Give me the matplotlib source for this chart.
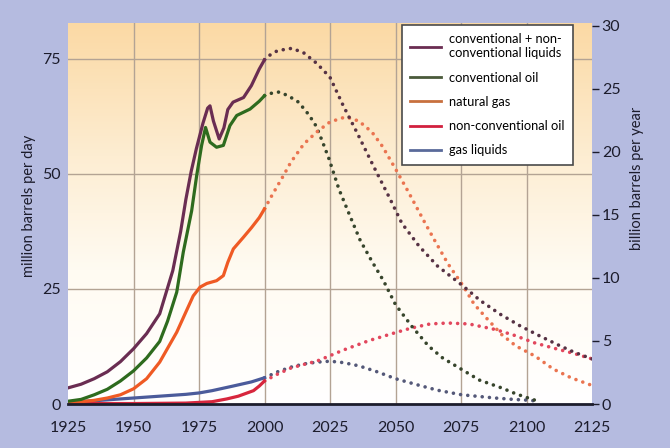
import numpy as np
import matplotlib
matplotlib.use('Agg')
import matplotlib.pyplot as plt
from matplotlib.colors import LinearSegmentedColormap

plt.rcParams['font.family'] = ['Lato', 'DejaVu Sans']

# conversion: 1 billion barrels per year = 2.74 million barrels per day
MBD_PER_GBY = 2.74

# ---- historical (solid) ----
liq_years = [1925, 1930, 1935, 1940, 1945, 1950, 1955, 1960, 1965, 1968, 1970, 1972, 1974,
             1976.5, 1978.3, 1979.2, 1980.5, 1982.7, 1984.5, 1986, 1988, 1992, 1995, 1998, 2000]
liq_vals = [3.5, 4.3, 5.5, 7.0, 9.2, 12.0, 15.3, 19.6, 29.0, 37.5, 44.5, 50.5, 55.5,
            61.0, 64.3, 64.8, 61.5, 57.6, 60.0, 64.0, 65.6, 66.6, 69.2, 72.8, 74.8]

oil_years = [1925, 1930, 1935, 1940, 1945, 1950, 1955, 1960, 1963, 1966.5, 1969, 1972.2, 1974.1,
             1976, 1977.5, 1979.2, 1981.7, 1984.3, 1986.8, 1989.4, 1994.5, 1998, 2000]
oil_vals = [0.6, 1.0, 2.0, 3.2, 5.0, 7.2, 10.0, 13.6, 18.0, 24.3, 33.0, 42.0, 49.6,
            56.2, 60.1, 56.9, 55.8, 56.2, 60.5, 62.7, 64.1, 65.8, 67.0]

gas_years = [1925, 1930, 1935, 1940, 1945, 1950, 1955, 1960, 1966.5, 1970, 1972.8, 1975.4, 1978,
             1981.7, 1984.3, 1986, 1988.1, 1991.9, 1995, 1998, 2000]
gas_vals = [0.3, 0.5, 0.8, 1.3, 2.0, 3.3, 5.5, 9.1, 15.6, 20.0, 23.5, 25.4, 26.2,
            26.8, 27.9, 30.8, 33.7, 36.2, 38.3, 40.5, 42.4]

ncv_years = [1925, 1950, 1970, 1980, 1985.6, 1990, 1995.8, 1998, 2000]
ncv_vals = [0.1, 0.1, 0.2, 0.5, 1.1, 1.7, 2.9, 3.9, 5.0]

ngl_years = [1925, 1935, 1950, 1960, 1970, 1975, 1980, 1988, 1995, 2000]
ngl_vals = [0.4, 0.7, 1.3, 1.7, 2.1, 2.4, 2.9, 3.9, 4.8, 5.7]

# ---- projections (dotted) ----
liq_p_years = [2000, 2002, 2005, 2010.5, 2015, 2020, 2025, 2030, 2035.2, 2041.5, 2047.9, 2052.4,
               2059, 2066, 2075.9, 2082.3, 2090, 2097.5, 2105, 2112.6, 2118, 2125]
liq_p_vals = [74.8, 75.8, 76.8, 77.3, 76.3, 74.0, 71.0, 64.9, 59.1, 51.8, 44.6, 39.3,
              34.3, 30.0, 25.6, 22.5, 19.5, 17.0, 14.8, 12.7, 11.3, 9.8]

oil_p_years = [2000, 2003, 2005.6, 2009, 2013, 2017, 2019.7, 2022, 2024.6, 2028.4, 2032.6, 2036.5,
               2041, 2045.4, 2050, 2056.2, 2062.6, 2068, 2075.3, 2082, 2090.5, 2096, 2100.7, 2104.5]
oil_p_vals = [67.0, 67.6, 67.8, 67.0, 65.6, 62.8, 60.4, 57.2, 53.3, 46.7, 40.9, 35.6,
              31.0, 26.8, 21.6, 16.9, 12.6, 10.0, 7.5, 5.2, 3.5, 2.2, 1.3, 0.6]

gas_p_years = [2000, 2003, 2007.2, 2010, 2015, 2019.9, 2025, 2031, 2036, 2041, 2045, 2050, 2055,
               2061.3, 2065, 2070, 2075.9, 2080, 2085, 2090.5, 2096, 2103.3, 2110.2, 2117, 2124.2]
gas_p_vals = [42.4, 45.5, 49.6, 52.5, 56.5, 59.1, 61.3, 62.4, 61.5, 59.1, 56.0, 51.1, 46.0,
              39.3, 35.5, 30.5, 25.6, 21.7, 18.5, 15.1, 12.6, 10.4, 7.6, 5.7, 4.2]

ncv_p_years = [2000, 2005, 2010, 2015, 2019.9, 2025, 2030, 2040, 2050.5, 2056, 2063.2, 2070,
               2078, 2088, 2095, 2103, 2110, 2118, 2125]
ncv_p_vals = [5.0, 6.5, 7.8, 8.6, 9.3, 10.5, 11.7, 13.8, 15.6, 16.5, 17.4, 17.6,
              17.4, 16.2, 15.0, 13.3, 12.2, 11.0, 9.8]

ngl_p_years = [2000, 2005, 2010, 2015, 2020, 2025, 2030, 2036, 2043, 2050, 2059.4, 2066,
               2075.3, 2088, 2095, 2101.5, 2104]
ngl_p_vals = [5.7, 7.0, 8.0, 8.7, 9.1, 9.3, 9.0, 8.3, 7.0, 5.5, 4.0, 3.0,
              2.0, 1.3, 1.0, 0.8, 0.6]

labels = ['conventional + non-\nconventional liquids', 'conventional oil',
          'natural gas', 'non-conventional oil', 'gas liquids']

fig = plt.figure(figsize=(6.7, 4.48), dpi=100)
fig.patch.set_facecolor('#b5bbe0')

ax = fig.add_axes([68 / 670, 44 / 448, 524 / 670, 381 / 448])
ax.set_facecolor('white')

# peach to white background gradient
grad_cmap = LinearSegmentedColormap.from_list(
    'bg', [(0.0, '#ffffff'), (0.35, '#fffbf2'), (0.65, '#fdedd2'), (1.0, '#fbd9a4')])
grad = np.linspace(0, 1, 256).reshape(-1, 1)
ax.imshow(grad, cmap=grad_cmap, origin='lower', aspect='auto',
          extent=(0, 1, 0, 1), transform=ax.transAxes, zorder=0)

grid_c = '#b3a394'
for yr in range(1950, 2125, 25):
    ax.axvline(yr, color=grid_c, lw=1.0, zorder=1)
for v in (25, 50, 75):
    ax.axhline(v, color=grid_c, lw=1.0, zorder=1)

dot = (0, (0.01, 2.0))
lw_s = 2.3
lw_d = 2.6

# projections
ax.plot(ngl_p_years, ngl_p_vals, color='#545878', lw=lw_d, ls=dot, dash_capstyle='round', zorder=3)
ax.plot(ncv_p_years, ncv_p_vals, color='#e2475d', lw=lw_d, ls=dot, dash_capstyle='round', zorder=3)
ax.plot(oil_p_years, oil_p_vals, color='#37452c', lw=lw_d, ls=dot, dash_capstyle='round', zorder=3)
ax.plot(gas_p_years, gas_p_vals, color='#ea7450', lw=lw_d, ls=dot, dash_capstyle='round', zorder=3)
ax.plot(liq_p_years, liq_p_vals, color='#563244', lw=lw_d, ls=dot, dash_capstyle='round', zorder=3)

# history
ax.plot(ngl_years, ngl_vals, color='#4b5b9b', lw=lw_s, zorder=4)
ax.plot(ncv_years, ncv_vals, color='#d7263d', lw=lw_s, zorder=4)
ax.plot(gas_years, gas_vals, color='#ef5a24', lw=lw_s, zorder=4)
ax.plot(oil_years, oil_vals, color='#2e6b1e', lw=lw_s, zorder=4)
ax.plot(liq_years, liq_vals, color='#6a2d52', lw=lw_s, zorder=4)

ax.set_xlim(1925, 2125)
ax.set_ylim(0, 82.8)
ax.set_xticks(range(1925, 2126, 25))
ax.set_yticks([0, 25, 50, 75])
for s in ('left', 'right', 'top'):
    ax.spines[s].set_visible(False)
ax.spines['bottom'].set_color('#1c1c2c')
ax.spines['bottom'].set_linewidth(2)
ax.spines['bottom'].set_zorder(5)
ax.tick_params(axis='x', length=0, pad=12, labelsize=11.5, labelcolor='#1c1c2c')
ax.tick_params(axis='y', length=0, pad=5, labelsize=11.5, labelcolor='#1c1c2c')
ax.set_ylabel('million barrels per day', fontsize=10.5, color='#1c1c2c')
ax.yaxis.set_label_coords(-0.062, 0.52)

ax2 = ax.twinx()
ax2.set_ylim(0, 82.8 / MBD_PER_GBY)
ax2.set_yticks(range(0, 31, 5))
for s in ax2.spines.values():
    s.set_visible(False)
ax2.tick_params(axis='y', direction='out', length=5, width=1, color='#1c1c2c',
                pad=2, labelsize=11.5, labelcolor='#1c1c2c')
ax2.set_ylabel('billion barrels per year', fontsize=10.5, color='#1c1c2c')
ax2.yaxis.set_label_coords(1.072, 0.593)

handles = [
    plt.Line2D([], [], color='#6a2d52', lw=2),
    plt.Line2D([], [], color='#4a5a3a', lw=2),
    plt.Line2D([], [], color='#c8703e', lw=2),
    plt.Line2D([], [], color='#d2203e', lw=2),
    plt.Line2D([], [], color='#5a6a9a', lw=2),
]
leg = ax2.legend(handles, labels, loc='upper right', bbox_to_anchor=(0.964, 0.995),
                 borderaxespad=0, fontsize=9.3, frameon=True, fancybox=False,
                 framealpha=1, edgecolor='#4a4a4a', handlelength=2.4,
                 handletextpad=0.6, labelspacing=0.95, borderpad=0.65)
leg.get_frame().set_linewidth(1.2)
leg.set_zorder(10)

fig.savefig('out.png', dpi=100, facecolor=fig.get_facecolor())
